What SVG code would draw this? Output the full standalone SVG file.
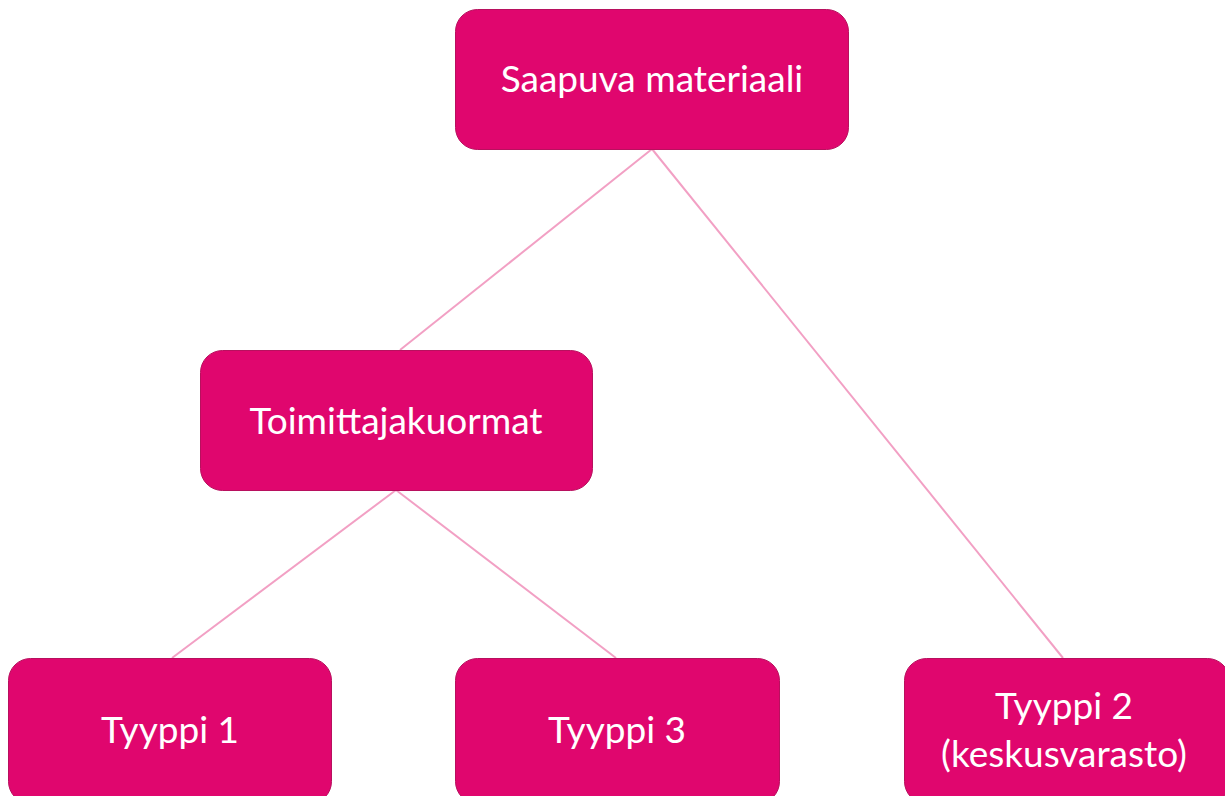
<svg xmlns="http://www.w3.org/2000/svg" width="1225" height="796" viewBox="0 0 1225 796">
<style>
.box{fill:#E0066E;stroke:#B8105E;stroke-width:1}
.lbl{font-family:Lato,"Open Sans",sans-serif;font-size:37px;fill:#FFFFFF;text-anchor:middle}
.con{stroke:#F2A0C4;stroke-width:2;fill:none}
</style>
<rect width="1225" height="796" fill="#FFFFFF"/>
<g id="connectors">
<line class="con" x1="652" y1="149" x2="400" y2="350"/>
<line class="con" x1="652" y1="149" x2="1063" y2="658"/>
<line class="con" x1="396" y1="490" x2="172" y2="658"/>
<line class="con" x1="396" y1="490" x2="616" y2="658"/>
</g>
<g id="saapuva">
<rect class="box" x="455.5" y="9.5" width="393" height="140" rx="22"/>
<text class="lbl" x="652" y="92">Saapuva materiaali</text>
</g>
<g id="toimittajakuormat">
<rect class="box" x="200.5" y="350.5" width="392" height="140" rx="22"/>
<text class="lbl" x="396" y="434">Toimittajakuormat</text>
</g>
<g id="tyyppi1">
<rect class="box" x="8.5" y="658.5" width="323" height="145" rx="22"/>
<text class="lbl" x="170" y="743">Tyyppi 1</text>
</g>
<g id="tyyppi3">
<rect class="box" x="455.5" y="658.5" width="324" height="145" rx="22"/>
<text class="lbl" x="617" y="743">Tyyppi 3</text>
</g>
<g id="tyyppi2">
<rect class="box" x="904.5" y="658.5" width="325" height="145" rx="22"/>
<text class="lbl" x="1064" y="719">Tyyppi 2</text>
<text class="lbl" x="1064" y="767">(keskusvarasto)</text>
</g>
</svg>
